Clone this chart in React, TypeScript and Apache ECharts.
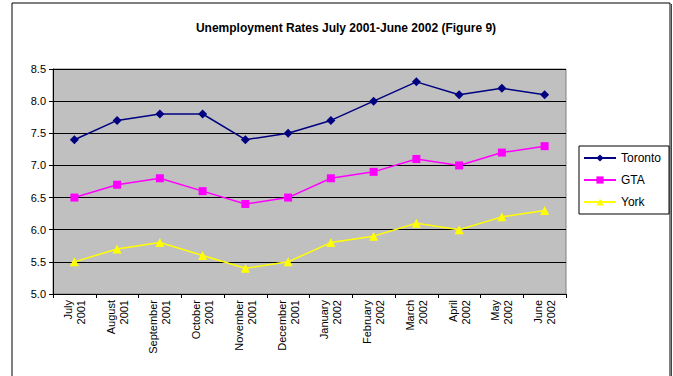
import React, { useEffect, useRef } from "react";
import * as echarts from "echarts";

const months = ["July", "August", "September", "October", "November", "December", "January", "February", "March", "April", "May", "June"];
const years = ["2001", "2001", "2001", "2001", "2001", "2001", "2002", "2002", "2002", "2002", "2002", "2002"];
const toronto = [7.4, 7.7, 7.8, 7.8, 7.4, 7.5, 7.7, 8.0, 8.3, 8.1, 8.2, 8.1];
const gta = [6.5, 6.7, 6.8, 6.6, 6.4, 6.5, 6.8, 6.9, 7.1, 7.0, 7.2, 7.3];
const york = [5.5, 5.7, 5.8, 5.6, 5.4, 5.5, 5.8, 5.9, 6.1, 6.0, 6.2, 6.3];

const FONT = "'Liberation Sans', Arial, sans-serif";

export default function App() {
  const ref = useRef<HTMLDivElement>(null);
  useEffect(() => {
    if (!ref.current) return;
    const chart = echarts.init(ref.current, undefined, { renderer: "svg" });
    const categories = months.map((m, i) => m + "\n" + years[i]);
    const mk = (name: string, data: number[], color: string, symbol: string, size: number) => ({
      name,
      type: "line",
      data,
      symbol,
      symbolSize: size,
      showAllSymbol: true,
      lineStyle: { color, width: 1.5 },
      itemStyle: { color },
      emphasis: { disabled: true },
    });
    chart.setOption({
      animation: false,
      textStyle: { fontFamily: FONT },
      title: {
        text: "Unemployment Rates July 2001-June 2002 (Figure 9)",
        left: 341,
        textAlign: "center",
        top: 17,
        textStyle: { fontSize: 12, fontWeight: "bold", color: "#000", fontFamily: FONT },
      },
      graphic: [
        { type: "rect", shape: { x: 12, y: 3, width: 658, height: 420 }, style: { fill: "none", stroke: "#000", lineWidth: 1 }, silent: true },
        { type: "line", shape: { x1: 671.5, y1: 4, x2: 671.5, y2: 420 }, style: { stroke: "#444", lineWidth: 1 }, silent: true },
      ],
      legend: {
        orient: "vertical",
        left: 579,
        top: 146,
        itemWidth: 32,
        itemHeight: 9,
        itemGap: 8,
        padding: [5, 8, 5, 4],
        borderColor: "#000",
        borderWidth: 1,
        backgroundColor: "#fff",
        textStyle: { fontSize: 12, color: "#000", fontFamily: FONT, lineHeight: 14 },
        data: ["Toronto", "GTA", "York"],
      },
      grid: { left: 53, top: 69, right: 107, bottom: 82, show: true, backgroundColor: "#C0C0C0", borderColor: "#808080", borderWidth: 1 },
      xAxis: {
        type: "category",
        data: categories,
        boundaryGap: true,
        axisLine: { lineStyle: { color: "#000", width: 1 } },
        axisTick: { show: true, length: 4, lineStyle: { color: "#000" } },
        axisLabel: { rotate: 90, fontSize: 11, color: "#000", lineHeight: 13, margin: 6, interval: 0, fontFamily: FONT },
      },
      yAxis: {
        type: "value",
        min: 5,
        max: 8.5,
        interval: 0.5,
        axisLine: { show: true, lineStyle: { color: "#000", width: 1 } },
        axisTick: { show: true, length: 4, lineStyle: { color: "#000" } },
        axisLabel: { fontSize: 11, color: "#000", margin: 7, formatter: (v: number) => v.toFixed(1), fontFamily: FONT },
        splitLine: { show: true, lineStyle: { color: "#000", width: 1 } },
      },
      series: [
        mk("Toronto", toronto, "#000080", "diamond", 9),
        mk("GTA", gta, "#FF00FF", "rect", 8),
        mk("York", york, "#FFFF00", "triangle", 9),
      ],
    });
    return () => chart.dispose();
  }, []);
  return <div ref={ref} style={{ position: "absolute", left: 0, top: 0, width: 673, height: 376 }} />;
}
